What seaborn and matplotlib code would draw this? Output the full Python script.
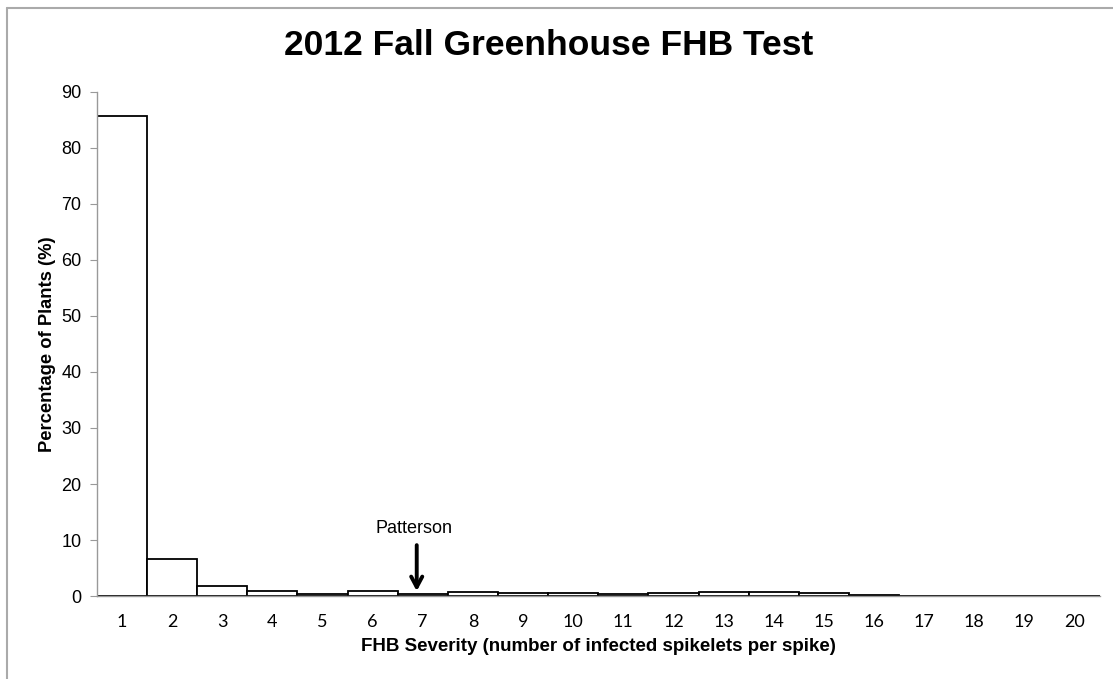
import numpy as np
import pandas as pd
import matplotlib
matplotlib.use("Agg")
import matplotlib.pyplot as plt
import seaborn as sns

# FHB severity classes and percentage of plants
severity = [str(i) for i in range(1, 21)]
percent = [85.7, 6.6, 1.8, 1.0, 0.3, 1.0, 0.3, 0.7, 0.5, 0.5,
           0.3, 0.5, 0.7, 0.7, 0.5, 0.2, 0.0, 0.0, 0.0, 0.0]
arrow_label = "Patterson"
arrow_class = "7"

sns.set_style("white")
plt.rcParams["font.family"] = ["Liberation Sans", "DejaVu Sans"]
plt.rcParams["text.color"] = "black"
plt.rcParams["axes.labelcolor"] = "black"
plt.rcParams["xtick.color"] = "black"
plt.rcParams["ytick.color"] = "black"

df = pd.DataFrame({"severity": severity, "percent": percent})

fig = plt.figure(figsize=(11.13, 6.79), dpi=100)
ax = fig.add_axes([0.087, 0.122, 0.901, 0.743])
sns.barplot(data=df, x="severity", y="percent", order=severity, color="white",
            edgecolor="black", linewidth=1.3, width=1.0, ax=ax)

ax.set_ylim(0, 90)
ax.set_yticks(range(0, 91, 10))
ax.set_xlim(-0.5, len(severity) - 0.5)
# tick marks sit on category boundaries, labels at centers
ax.set_xticks(np.arange(-0.5, len(severity), 1.0), minor=True)
ax.tick_params(axis="x", which="major", length=0, labelsize=13, pad=12.5)
ax.tick_params(axis="x", which="minor", length=6, color="#999999", width=1)
ax.tick_params(axis="y", which="major", length=5, color="#999999", labelsize=13, left=True, pad=6)
for lbl in ax.get_xticklabels():
    lbl.set_family(["Lato", "DejaVu Sans"])

for s in ["top", "right"]:
    ax.spines[s].set_visible(False)
for s in ["left", "bottom"]:
    ax.spines[s].set_color("#999999")
    ax.spines[s].set_linewidth(1)

ax.set_xlabel("FHB Severity (number of infected spikelets per spike)", fontsize=13.5, fontweight="bold", labelpad=6)
ax.set_ylabel("Percentage of Plants (%)", fontsize=13.2, fontweight="bold", labelpad=4)
fig.suptitle("2012 Fall Greenhouse FHB Test", fontsize=25.5, fontweight="bold", x=0.493, y=0.933, va="center")

xi = severity.index(arrow_class) - 0.12
ax.annotate("", xy=(xi, 0.4), xytext=(xi, 9.6),
            arrowprops=dict(arrowstyle="->,head_length=0.75,head_width=0.4", color="black", lw=2.8))
ax.text(xi - 0.05, 10.6, arrow_label, ha="center", va="bottom", fontsize=13)

# figure frame: top and left edges only
fig.add_artist(plt.Line2D([0.0063, 0.0063], [0.0, 0.988], transform=fig.transFigure,
                          color="#aaaaaa", linewidth=1.5))
fig.add_artist(plt.Line2D([0.0063, 1.0], [0.988, 0.988], transform=fig.transFigure,
                          color="#aaaaaa", linewidth=1.5))

fig.savefig("out.png", dpi=100)
